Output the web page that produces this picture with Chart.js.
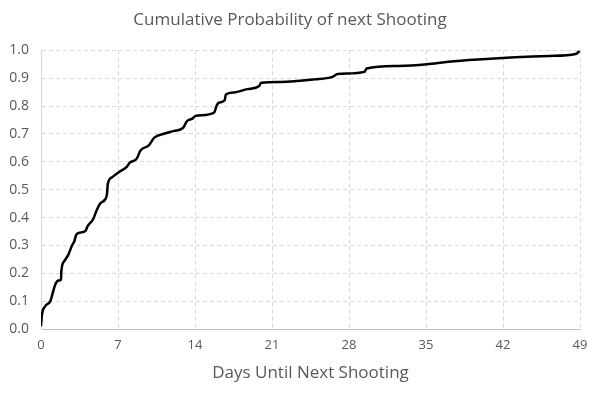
<!DOCTYPE html>
<html>
<head>
<meta charset="utf-8">
<script src="https://cdn.jsdelivr.net/npm/chart.js@4/dist/chart.umd.min.js"></script>
<style>
  html, body { margin: 0; padding: 0; background: #fff; }
  #wrap { width: 596px; height: 397px; }
</style>
</head>
<body>
<div id="wrap"><canvas id="cdfChart"></canvas></div>
<script>
// days until next shooting (x) and cumulative probability (y)
const days = [0, 0.09, 0.39, 0.85, 0.99, 1.3, 1.6, 1.82, 1.85, 2.12, 2.5, 2.8, 3.04, 3.2, 3.58, 4.04,
  4.25, 4.74, 5.1, 5.4, 5.86, 6.0, 6.07, 6.47, 7.07, 7.77, 8.05, 8.69, 9.05, 9.8, 10.3, 11.18,
  12.09, 12.94, 13.24, 13.76, 14.07, 15.74, 15.98, 16.2, 16.7, 16.8, 17.56, 18.77, 19.84, 20.0,
  21.8, 24.85, 26.5, 26.97, 29.4, 29.6, 32.5, 35.08, 37.05, 40.1, 43.1, 46.2, 48.6, 49];
const probability = [0.01, 0.052, 0.082, 0.10, 0.118, 0.16, 0.174, 0.178, 0.208, 0.244, 0.268, 0.298,
  0.316, 0.338, 0.346, 0.352, 0.370, 0.394, 0.43, 0.451, 0.467, 0.485, 0.52, 0.545, 0.563, 0.581,
  0.596, 0.611, 0.641, 0.659, 0.687, 0.701, 0.711, 0.723, 0.745, 0.755, 0.765, 0.777, 0.803, 0.813,
  0.821, 0.842, 0.849, 0.861, 0.872, 0.884, 0.887, 0.896, 0.905, 0.915, 0.923, 0.935, 0.944, 0.950,
  0.959, 0.968, 0.975, 0.980, 0.987, 0.999];
const xTicks = [0, 7, 14, 21, 28, 35, 42, 49];

const points = days.map((d, i) => ({ x: d, y: probability[i] }));

const ctx = document.getElementById('cdfChart').getContext('2d');
const cdfChart = new Chart(ctx, {
  type: 'scatter',
  data: {
    datasets: [{
      data: points,
      showLine: true,
      borderColor: '#000000',
      borderWidth: 2.5,
      pointRadius: 0,
      cubicInterpolationMode: 'monotone'
    }]
  },
  options: {
    responsive: true,
    maintainAspectRatio: false,
    animation: false,
    layout: { padding: { left: 0, right: 16, top: 6, bottom: 10 } },
    plugins: {
      legend: { display: false },
      tooltip: { enabled: false },
      title: {
        display: true,
        text: 'Cumulative Probability of next Shooting',
        color: '#595959',
        font: { family: 'Open Sans', size: 17, weight: 'normal' },
        padding: { top: 4, bottom: 20 }
      }
    },
    scales: {
      x: {
        type: 'linear',
        min: 0,
        max: 49,
        afterBuildTicks: axis => { axis.ticks = xTicks.map(v => ({ value: v })); },
        ticks: {
          color: '#595959',
          font: { family: 'Open Sans', size: 13 },
          padding: 8,
          maxRotation: 0
        },
        grid: { color: '#d9d9d9', drawTicks: false },
        border: { display: true, color: '#bfbfbf', dash: [4, 3] },
        title: {
          display: true,
          text: 'Days Until Next Shooting',
          color: '#595959',
          font: { family: 'Open Sans', size: 17 },
          padding: { top: 2 }
        }
      },
      y: {
        min: 0,
        max: 1,
        afterFit: axis => { axis.width = 41; },
        ticks: {
          stepSize: 0.1,
          color: '#595959',
          font: { family: 'Open Sans', size: 14 },
          padding: 12,
          callback: v => v.toFixed(1)
        },
        grid: { color: '#d9d9d9', drawTicks: false },
        border: { display: true, color: '#d9d9d9', dash: [4, 3] }
      }
    }
  }
});
</script>
</body>
</html>
